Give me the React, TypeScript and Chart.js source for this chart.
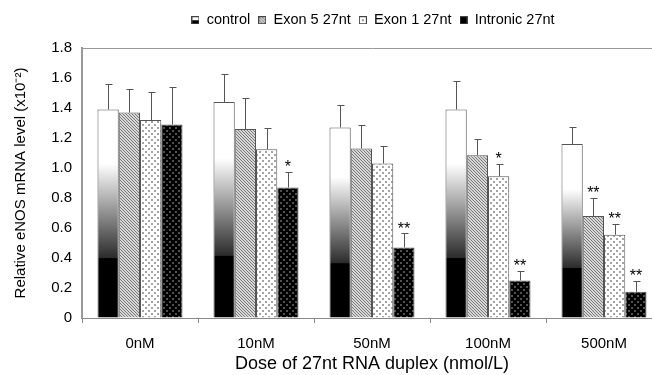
import React, { useEffect, useRef } from 'react';
import { Chart, registerables } from 'chart.js';

Chart.register(...registerables);

// ---------- data ----------
const categories = ['0nM', '10nM', '50nM', '100nM', '500nM'];
const seriesNames = ['control', 'Exon 5 27nt', 'Exon 1 27nt', 'Intronic 27nt'];

const controlValues = [1.39, 1.44, 1.27, 1.39, 1.16];
const controlErrors = [0.17, 0.19, 0.15, 0.19, 0.115];
const exon5Values = [1.37, 1.26, 1.13, 1.085, 0.68];
const exon5Errors = [0.16, 0.21, 0.16, 0.11, 0.12];
const exon1Values = [1.32, 1.125, 1.03, 0.945, 0.555];
const exon1Errors = [0.19, 0.14, 0.115, 0.085, 0.072];
const intronicValues = [1.29, 0.87, 0.47, 0.25, 0.175];
const intronicErrors = [0.25, 0.105, 0.095, 0.063, 0.075];

const controlMarks = ['', '', '', '', ''];
const exon5Marks = ['', '', '', '', '**'];
const exon1Marks = ['', '', '', '*', '**'];
const intronicMarks = ['', '*', '**', '**', '**'];

const yMin = 0;
const yMax = 1.8;
const yStep = 0.2;

const xTitle = 'Dose of 27nt RNA duplex (nmol/L)';
const yTitle = 'Relative eNOS mRNA level (x10\u207B\u00B2)';

const FONT = 'Arial, "Liberation Sans", sans-serif';

function makeTile(w: number, h: number, draw: (g: CanvasRenderingContext2D) => void) {
  const c = document.createElement('canvas');
  c.width = w;
  c.height = h;
  const g = c.getContext('2d')!;
  draw(g);
  return c;
}

export default function App() {
  const ref = useRef<HTMLCanvasElement>(null);

  useEffect(() => {
    document.body.style.margin = '0';
    document.body.style.overflow = 'hidden';
    const canvas = ref.current!;
    const ctx = canvas.getContext('2d')!;

    // textures
    const hatchTile = makeTile(3, 3, (g) => {
      g.fillStyle = '#d6d6d6';
      g.fillRect(0, 0, 3, 3);
      g.fillStyle = '#7c7c7c';
      for (let i = 0; i < 3; i++) g.fillRect(i, i, 1, 1);
    });
    const dotsLightTile = makeTile(6, 6, (g) => {
      g.fillStyle = '#ffffff';
      g.fillRect(0, 0, 6, 6);
      g.fillStyle = '#a4a4a4';
      g.fillRect(1, 1, 2, 2);
      g.fillRect(4, 4, 2, 2);
    });
    const dotsDarkTile = makeTile(6, 6, (g) => {
      g.fillStyle = '#000000';
      g.fillRect(0, 0, 6, 6);
      g.fillStyle = '#505050';
      g.fillRect(1, 1, 2, 2);
      g.fillRect(4, 4, 2, 2);
    });
    const hatch = ctx.createPattern(hatchTile, 'repeat')!;
    const dotsLight = ctx.createPattern(dotsLightTile, 'repeat')!;
    const dotsDark = ctx.createPattern(dotsDarkTile, 'repeat')!;

    // legend icons
    const iconSize = 8;
    const icon = (fill: (g: CanvasRenderingContext2D) => void) =>
      makeTile(iconSize, iconSize, (g) => {
        fill(g);
        g.strokeStyle = '#444';
        g.lineWidth = 1;
        g.strokeRect(0.5, 0.5, iconSize - 1, iconSize - 1);
      });
    const icons = [
      icon((g) => {
        g.fillStyle = '#fff';
        g.fillRect(0, 0, iconSize, iconSize);
        g.fillStyle = '#000';
        g.fillRect(0, iconSize / 2, iconSize, iconSize / 2);
      }),
      icon((g) => {
        g.fillStyle = g.createPattern(hatchTile, 'repeat')!;
        g.fillRect(0, 0, iconSize, iconSize);
      }),
      icon((g) => {
        g.fillStyle = '#fff';
        g.fillRect(0, 0, iconSize, iconSize);
        g.fillStyle = '#999';
        g.fillRect(3, 3, 2, 2);
      }),
      icon((g) => {
        g.fillStyle = '#000';
        g.fillRect(0, 0, iconSize, iconSize);
      }),
    ];

    const controlFill = (c: any) => {
      const chart = c.chart;
      const ys = chart.scales && chart.scales.y;
      if (!ys || c.type !== 'data' || typeof c.raw !== 'number') return '#888';
      const y0 = ys.getPixelForValue(0);
      const y1 = ys.getPixelForValue(c.raw);
      if (!isFinite(y0) || !isFinite(y1) || y0 === y1) return '#888';
      const gr = chart.ctx.createLinearGradient(0, y0, 0, y1);
      gr.addColorStop(0, '#000000');
      gr.addColorStop(0.285, '#000000');
      gr.addColorStop(0.29, '#2c2c2c');
      gr.addColorStop(0.74, '#ffffff');
      gr.addColorStop(1, '#ffffff');
      return gr;
    };

    const errors = [controlErrors, exon5Errors, exon1Errors, intronicErrors];
    const marks = [controlMarks, exon5Marks, exon1Marks, intronicMarks];

    const errorBarPlugin = {
      id: 'errorBars',
      afterDatasetsDraw(chart: any) {
        const c = chart.ctx;
        const ys = chart.scales.y;
        c.save();
        c.strokeStyle = '#555';
        c.lineWidth = 1;
        chart.data.datasets.forEach((ds: any, i: number) => {
          const meta = chart.getDatasetMeta(i);
          meta.data.forEach((bar: any, j: number) => {
            const v = ds.data[j];
            const top = ys.getPixelForValue(v + errors[i][j]);
            const x = Math.round(bar.x) + 0.5;
            const ty = Math.round(top) + 0.5;
            c.beginPath();
            c.moveTo(x, bar.y);
            c.lineTo(x, ty);
            c.moveTo(x - 3, ty);
            c.lineTo(x + 4, ty);
            c.stroke();
            const m = marks[i][j];
            if (m) {
              c.fillStyle = '#000';
              c.font = `16px ${FONT}`;
              c.textAlign = 'center';
              c.textBaseline = 'alphabetic';
              c.fillText(m, bar.x, top - 9 + 0.58 * 16);
            }
          });
        });
        c.restore();
      },
    };

    const legendShift = {
      id: 'legendShift',
      afterLayout(chart: any) {
        const L = chart.legend;
        if (!L || !L.lineWidths) return;
        const pad = L.options.labels.padding;
        const start = (L.left + pad + L.right - L.lineWidths[0]) / 2;
        const center = start + (L.lineWidths[0] - pad) / 2;
        const dx = 373 - center;
        L.left += dx;
        L.right += dx;
      },
    };

    const fills = [controlFill, hatch, dotsLight, dotsDark];
    const valueSets = [controlValues, exon5Values, exon1Values, intronicValues];

    const chart = new Chart(ctx, {
      type: 'bar',
      data: {
        labels: categories,
        datasets: seriesNames.map((name, i) => ({
          label: name,
          data: valueSets[i],
          backgroundColor: fills[i] as any,
          borderColor: '#555',
          borderWidth: 1,
          categoryPercentage: 0.733,
          barPercentage: 1,
          xAxisID: 'x',
          yAxisID: 'y',
        })),
      },
      options: {
        animation: false,
        responsive: false,
        devicePixelRatio: 1,
        layout: { padding: { top: 5, left: 0, right: 0, bottom: 0 } },
        plugins: {
          tooltip: { enabled: false },
          legend: {
            position: 'top',
            labels: {
              usePointStyle: true,
              boxWidth: 8,
              boxHeight: 8,
              padding: 8,
              color: '#000',
              font: { size: 14.5, family: FONT },
              generateLabels: (ch: any) =>
                ch.data.datasets.map((d: any, i: number) => ({
                  text: d.label,
                  pointStyle: icons[i],
                  fillStyle: '#000',
                  strokeStyle: '#000',
                  lineWidth: 0,
                  hidden: false,
                  datasetIndex: i,
                  fontColor: '#000',
                })),
            },
          },
        },
        scales: {
          xTop: {
            type: 'category',
            position: 'top',
            display: true,
            grid: { display: false, drawTicks: false },
            border: { display: false },
            ticks: { display: false },
            afterFit(s: any) {
              s.height = 10.5;
            },
          } as any,
          x: {
            type: 'category',
            position: 'bottom',
            offset: true,
            grid: { offset: true, drawOnChartArea: false, drawTicks: true, tickLength: 5, color: '#888' },
            border: { color: '#888', width: 1 },
            ticks: { color: '#000', font: { size: 15, family: FONT }, padding: 12 },
            title: {
              display: true,
              text: xTitle,
              color: '#000',
              font: { size: 18, family: FONT },
              padding: { top: 0, bottom: 0 },
            },
            afterFit(s: any) {
              s.height = 57;
            },
          },
          y: {
            min: yMin,
            max: yMax,
            ticks: { stepSize: yStep, color: '#000', font: { size: 15, family: FONT }, padding: 10 },
            grid: {
              drawTicks: false,
              color: (c: any) => (c.tick && Math.abs(c.tick.value - yMax) < 1e-6 ? '#999' : 'rgba(0,0,0,0)'),
              lineWidth: 1,
            },
            border: { color: '#999', width: 2 },
            title: {
              display: true,
              text: yTitle,
              color: '#000',
              font: { size: 15, family: FONT },
              padding: { top: 12, bottom: 0 },
            },
            afterFit(s: any) {
              s.width = 82;
            },
          },
        },
      } as any,
      plugins: [errorBarPlugin, legendShift],
    });

    return () => {
      chart.destroy();
    };
  }, []);

  return (
    <div style={{ width: 662, height: 375, overflow: 'hidden' }}>
      <canvas ref={ref} width={662} height={375} style={{ display: 'block', width: 662, height: 375 }} />
    </div>
  );
}
